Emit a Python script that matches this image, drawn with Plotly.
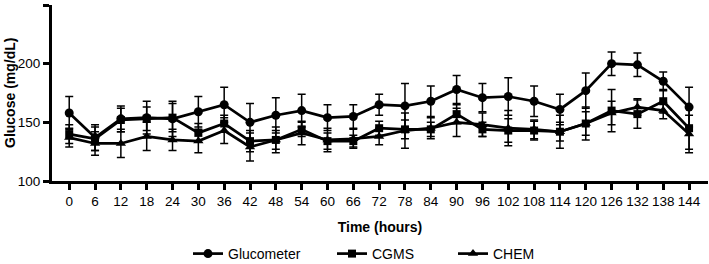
import plotly.graph_objects as go

hours = [0, 6, 12, 18, 24, 30, 36, 42, 48, 54, 60, 66, 72, 78, 84, 90, 96, 102, 108, 114, 120, 126, 132, 138, 144]

glucometer = [158, 137, 153, 154, 153, 159, 165, 150, 156, 160, 154, 155, 165, 164, 168, 178, 171, 172, 168, 161, 177, 200, 199, 185, 163]
glucometer_sd = [14, 11, 11, 14, 15, 13, 15, 16, 15, 14, 11, 10, 9, 19, 13, 12, 12, 16, 13, 13, 15, 10, 10, 8, 17]

cgms = [140, 136, 152, 153, 154, 141, 149, 134, 135, 144, 134, 134, 145, 144, 144, 157, 144, 143, 143, 142, 149, 160, 157, 168, 145]
cgms_sd = [8, 10, 10, 10, 12, 8, 7, 9, 8, 6, 7, 5, 6, 8, 6, 8, 6, 10, 8, 8, 10, 18, 12, 10, 18]

chem = [137, 132, 132, 138, 135, 134, 143, 129, 135, 141, 135, 136, 138, 143, 145, 150, 148, 145, 144, 142, 149, 158, 163, 160, 140]
chem_sd = [8, 10, 12, 12, 9, 10, 11, 12, 11, 10, 10, 8, 7, 15, 9, 12, 10, 15, 8, 14, 14, 10, 7, 7, 16]

y_title = "Glucose (mg/dL)"
x_title = "Time (hours)"

series = [
    ("Glucometer", glucometer, glucometer_sd, "circle", 9, "legend", 188),
    ("CGMS", cgms, cgms_sd, "square", 8, "legend2", 332),
    ("CHEM", chem, chem_sd, "triangle-up", 9, "legend3", 453),
]

FONT = "Liberation Sans, Arial, Helvetica, sans-serif"
L, R, T, B = 52, 1, 5, 83
W, H = 709, 264
PW = W - L - R
PH = H - T - B

fig = go.Figure()
legends = {}
for name, vals, sd, sym, size, lg, lx in series:
    fig.add_trace(go.Scatter(
        x=hours, y=vals, name=name, mode="lines+markers", legend=lg,
        line=dict(color="black", width=2.7),
        marker=dict(symbol=sym, size=size, color="black"),
        error_y=dict(type="data", array=sd, visible=True, color="black", thickness=1.5, width=4),
    ))
    legends[lg] = dict(orientation="h", x=(lx - L) / PW, xanchor="left",
                       y=-(238 - (T + PH)) / PH, yanchor="top",
                       font=dict(size=14), itemwidth=30, bgcolor="rgba(0,0,0,0)")

fig.update_layout(
    width=W, height=H,
    margin=dict(l=L, r=R, t=T, b=B, autoexpand=False),
    paper_bgcolor="white", plot_bgcolor="white",
    font=dict(family=FONT, size=14, color="black"),
    showlegend=True,
    **legends,
)
fig.add_annotation(
    text=f"<b>{y_title}</b>", textangle=-90, xref="paper", yref="paper",
    x=(10 - L) / PW, y=0.5, xanchor="center", yanchor="middle", showarrow=False,
    font=dict(size=14),
)
fig.update_xaxes(
    range=[-4, 148.4], tickmode="array", tickvals=hours, ticktext=[str(h) for h in hours],
    showline=True, linecolor="black", linewidth=3, ticks="outside", ticklen=6, tickwidth=2.5,
    tickcolor="black", showgrid=False, zeroline=False, tickfont=dict(size=13.5), automargin=False,
    title=dict(text=f"<b>{x_title}</b>", font=dict(size=14), standoff=14),
)
fig.update_yaxes(
    range=[100, 250], tickvals=[100, 150, 200, 250],
    showline=True, linecolor="black", linewidth=3, ticks="outside", ticklen=6, tickwidth=2.5,
    tickcolor="black", showgrid=False, zeroline=False, tickfont=dict(size=13.5), automargin=False,
)

fig.write_html("out.html", config={"displayModeBar": False},
               post_script="document.body.style.margin='0';document.body.style.overflow='hidden';")
